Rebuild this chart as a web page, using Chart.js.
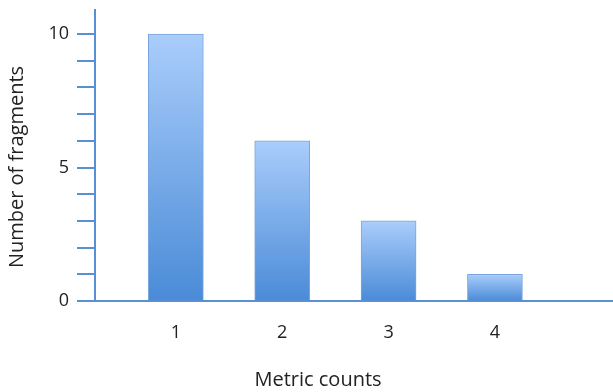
<!DOCTYPE html>
<html>
<head>
<meta charset="utf-8">
<script src="https://cdn.jsdelivr.net/npm/chart.js@4"></script>
<style>
  html, body { margin: 0; padding: 0; background: #fff; }
  #wrap { width: 613px; height: 392px; }
</style>
</head>
<body>
<div id="wrap"><canvas id="fragChart"></canvas></div>
<script>
// chart values
const metricCounts = [1, 2, 3, 4];
const fragmentCounts = [10, 6, 3, 1];
const yTickLabels = [0, 5, 10];
const xTitle = 'Metric counts';
const yTitle = 'Number of fragments';

const axisBlue = '#5b8fd3';
const labelFont = { family: 'Open Sans', size: 18 };

// gradient for each bar, light at top and darker at the base
function barGradient(ctx) {
  const chart = ctx.chart;
  if (!chart.chartArea || !ctx.raw) return '#7aaee8';
  const y = chart.scales.y;
  const top = y.getPixelForValue(ctx.raw.y);
  const base = y.getPixelForValue(0);
  const g = chart.ctx.createLinearGradient(0, top, 0, base);
  g.addColorStop(0, '#aacdfb');
  g.addColorStop(1, '#4a8bd7');
  return g;
}

// axis titles sit a bit off the chart-area centre in the original
const axisTitles = {
  id: 'axisTitles',
  afterDraw(chart) {
    const c = chart.ctx;
    c.save();
    c.fillStyle = '#222';
    c.font = '20px "Open Sans"';
    c.textAlign = 'center';
    c.textBaseline = 'middle';
    c.fillText(xTitle, 318, 380);
    c.translate(17, 167);
    c.rotate(-Math.PI / 2);
    c.fillText(yTitle, 0, 0);
    c.restore();
  }
};

const ctx = document.getElementById('fragChart').getContext('2d');
new Chart(ctx, {
  type: 'bar',
  data: {
    datasets: [{
      data: metricCounts.map((m, i) => ({ x: m, y: fragmentCounts[i] })),
      backgroundColor: barGradient,
      borderColor: '#78a6de',
      borderWidth: 1,
      borderSkipped: 'bottom',
      barThickness: 55
    }]
  },
  plugins: [axisTitles],
  options: {
    responsive: true,
    maintainAspectRatio: false,
    animation: false,
    layout: { padding: { top: 10, right: 0, left: 0, bottom: 0 } },
    plugins: { legend: { display: false }, tooltip: { enabled: false } },
    scales: {
      x: {
        type: 'linear',
        offset: false,
        min: 0.24,
        max: 5.11,
        afterFit: s => { s.height = 91; s.paddingLeft = 0; s.paddingRight = 0; },
        grid: { display: false, drawTicks: false },
        border: { display: true, color: axisBlue, width: 2 },
        ticks: {
          stepSize: 1,
          includeBounds: false,
          padding: 21,
          color: '#222',
          font: labelFont,
          callback: v => metricCounts.includes(v) ? String(v) : ''
        }
      },
      y: {
        min: 0,
        max: 10.9,
        afterFit: s => { s.width = 95; s.paddingTop = 0; s.paddingBottom = 0; },
        grid: {
          drawOnChartArea: false,
          drawTicks: true,
          tickLength: 18,
          color: axisBlue,
          lineWidth: 2
        },
        border: { display: true, color: axisBlue, width: 2 },
        ticks: {
          stepSize: 1,
          includeBounds: false,
          padding: 8,
          color: '#222',
          font: labelFont,
          callback: v => yTickLabels.includes(v) ? String(v) : ''
        }
      }
    }
  }
});
</script>
</body>
</html>
